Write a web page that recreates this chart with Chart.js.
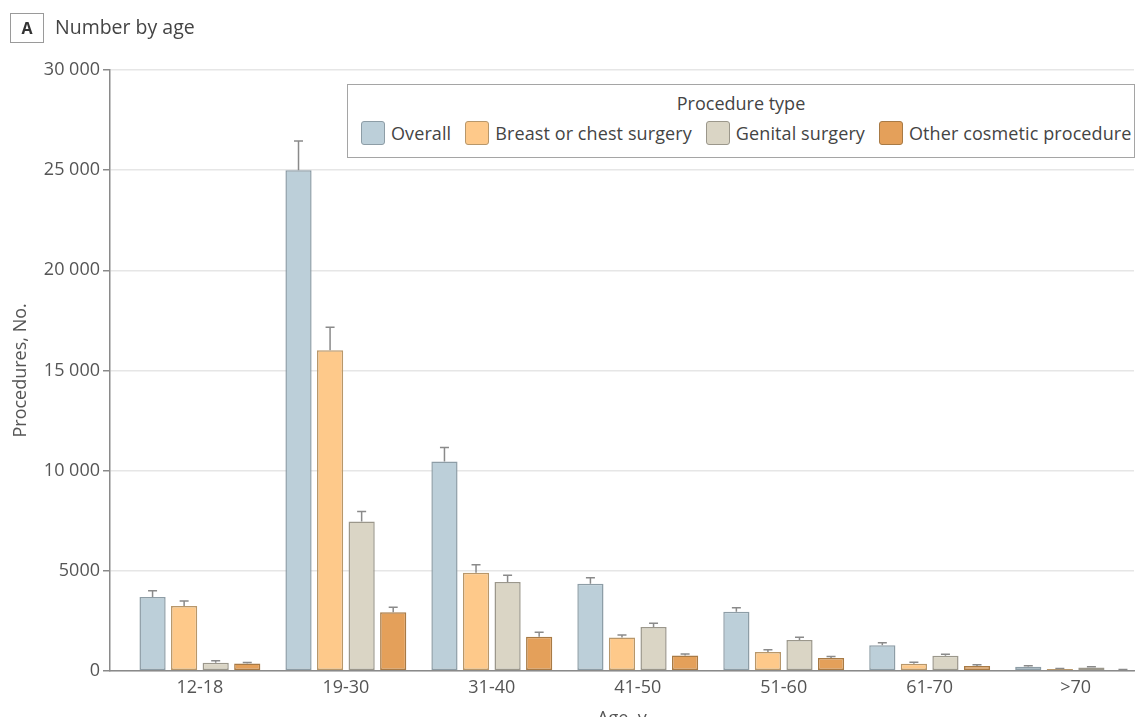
<!DOCTYPE html>
<html>
<head>
<meta charset="utf-8">
<script src="https://cdn.jsdelivr.net/npm/chart.js@4.4.0/dist/chart.umd.min.js"></script>
<style>
  html, body { margin: 0; padding: 0; background: #fff; overflow: hidden; width: 1137px; height: 717px; }
  body { position: relative; font-family: "Open Sans", "Noto Sans", sans-serif; color: #444; }
  #chart { position: absolute; left: 0; top: 0; }
  #panel { position: absolute; left: 10px; top: 13px; width: 32px; height: 28px; border: 1.5px solid #9a9a9a;
           font-weight: bold; font-size: 16px; line-height: 28px; text-align: center; color: #333; }
  #title { position: absolute; left: 55px; top: 13px; font-size: 19.5px; color: #444; }
  #legend { position: absolute; left: 347px; top: 84px; width: 786px; height: 72px; border: 1.5px solid #a5a5a5;
            background: #fff; box-sizing: content-box; white-space: nowrap; }
  #legend .lt { text-align: center; font-size: 18px; margin-top: 6px; color: #444; }
  #legend .row { display: flex; align-items: center; margin-top: 6px; margin-left: 13px; flex-wrap: nowrap; }
  #legend .item { display: flex; align-items: center; margin-right: 14px; font-size: 18px; color: #444;
                  white-space: nowrap; flex: none; letter-spacing: 0.1px; }
  #legend .sw { width: 24px; height: 24px; border-radius: 3px; margin-right: 6px; box-sizing: border-box; flex: none; }
</style>
</head>
<body>
<canvas id="chart" width="1137" height="730"></canvas>
<div id="panel">A</div>
<div id="title">Number by age</div>
<div id="legend"><div class="lt">Procedure type</div><div class="row" id="legrow"></div></div>
<script>
// ---- data ----
const ageGroups = ["12-18", "19-30", "31-40", "41-50", "51-60", "61-70", ">70"];
const seriesNames = ["Overall", "Breast or chest surgery", "Genital surgery", "Other cosmetic procedure"];
const overall      = [3680, 25000, 10450, 4350, 2950, 1270, 200];
const overallUpper = [4000, 26450, 11150, 4650, 3150, 1400, 250];
const breast       = [3230, 16000, 4900, 1660, 940, 350, 85];
const breastUpper  = [3480, 17150, 5300, 1790, 1050, 430, 110];
const genital      = [400, 7450, 4430, 2190, 1540, 750, 165];
const genitalUpper = [500, 7950, 4770, 2370, 1670, 830, 200];
const other        = [370, 2920, 1700, 770, 640, 235, 40];
const otherUpper   = [420, 3170, 1920, 835, 720, 300, 60];
const yTicks = [0, 5000, 10000, 15000, 20000, 25000, 30000];

const fills   = ["#bccfd9", "#fec98a", "#dad5c5", "#e4a05a"];
const borders = ["#8d9da6", "#b8976a", "#9b978b", "#a87a45"];

const values = [overall, breast, genital, other];
const uppers = [overallUpper, breastUpper, genitalUpper, otherUpper];

function fmt(v) {
  if (v < 10000) return String(v);
  const s = String(v);
  return s.slice(0, s.length - 3) + " " + s.slice(-3);
}

const errorBars = {
  id: 'errorBars',
  afterDatasetsDraw(chart) {
    const ctx = chart.ctx;
    const yS = chart.scales.y;
    ctx.save();
    ctx.strokeStyle = '#8a8a8a';
    ctx.lineWidth = 1.5;
    chart.data.datasets.forEach((ds, di) => {
      const meta = chart.getDatasetMeta(di);
      meta.data.forEach((bar, i) => {
        const yTop = yS.getPixelForValue(uppers[di][i]);
        const x = bar.x;
        ctx.beginPath();
        ctx.moveTo(x, bar.y);
        ctx.lineTo(x, yTop);
        ctx.moveTo(x - 4.5, yTop);
        ctx.lineTo(x + 4.5, yTop);
        ctx.stroke();
      });
    });
    ctx.restore();
  }
};

const datasets = values.map((arr, di) => ({
  label: seriesNames[di],
  data: arr.map((v, i) => ({ x: i, y: v })),
  backgroundColor: fills[di],
  borderColor: borders[di],
  borderWidth: 1.5,
  borderSkipped: false,
  barPercentage: 0.83,
  categoryPercentage: 0.865
}));

// HTML legend from the series arrays
const row = document.getElementById('legrow');
seriesNames.forEach((n, i) => {
  const it = document.createElement('div');
  it.className = 'item';
  it.innerHTML = '<span class="sw" style="background:' + fills[i] + ';border:1.5px solid ' + borders[i] + '"></span><span>' + n + '</span>';
  row.appendChild(it);
});

const font = { family: '"Open Sans", "Noto Sans", sans-serif', size: 18 };

new Chart(document.getElementById('chart'), {
  type: 'bar',
  data: { datasets },
  options: {
    responsive: false,
    animation: false,
    devicePixelRatio: 1,
    layout: { padding: { top: 70, right: 3, bottom: 0, left: 0 } },
    plugins: { legend: { display: false }, tooltip: { enabled: false } },
    scales: {
      x: {
        type: 'linear',
        offset: false,
        min: -0.616,
        max: 6.40,
        grid: { display: false, drawTicks: false },
        border: { color: '#8a8a8a', width: 1.5 },
        ticks: {
          stepSize: 1,
          includeBounds: false,
          autoSkip: false,
          maxRotation: 0,
          padding: 6,
          color: '#555',
          font,
          callback: (v) => (Number.isInteger(v) && ageGroups[v] !== undefined) ? ageGroups[v] : ''
        },
        title: { display: true, text: 'Age, y', color: '#555', font, padding: { top: 4, bottom: 0 } }
      },
      y: {
        min: 0,
        max: 30000,
        afterFit: (s) => { s.width = 110; },
        afterBuildTicks: (s) => { s.ticks = yTicks.map(v => ({ value: v })); },
        grid: { color: '#e6e6e6', lineWidth: 1.5, tickColor: '#8a8a8a', tickLength: 7, drawTicks: true },
        border: { color: '#8a8a8a', width: 1.5 },
        ticks: { color: '#555', font, padding: 3, callback: (v) => fmt(v) },
        title: { display: true, text: 'Procedures, No.', color: '#555', font, padding: { top: 10, bottom: 0 } }
      }
    }
  },
  plugins: [errorBars]
});
</script>
</body>
</html>
